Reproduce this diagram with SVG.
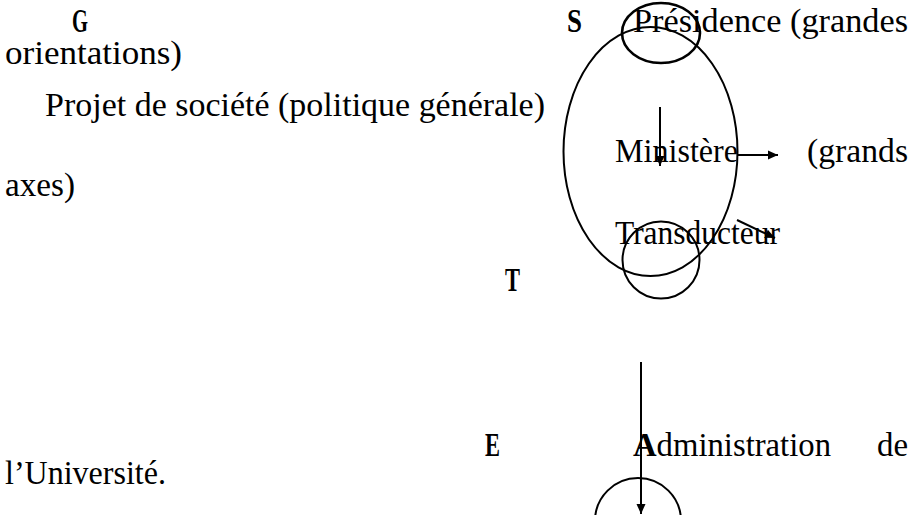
<svg xmlns="http://www.w3.org/2000/svg" width="916" height="515" viewBox="0 0 916 515">
<style>
text{font-family:"Liberation Serif","Times New Roman",serif;font-size:34px;fill:#000}
.b{font-weight:bold}
.sh{fill:none;stroke:#000;stroke-width:2}
.ar{fill:none;stroke:#000;stroke-width:2}
</style>
<defs>
<marker id="ah" markerWidth="12" markerHeight="10" refX="10" refY="5" orient="auto" markerUnits="userSpaceOnUse">
<path d="M0,0.5 L10,5 L0,9.5 Z" fill="#000"/>
</marker>
</defs>
<rect width="916" height="515" fill="#fff"/>
<g id="labels-left">
<text class="b" x="72" y="32" textLength="16" lengthAdjust="spacingAndGlyphs">G</text>
<text x="5" y="64" textLength="177" lengthAdjust="spacingAndGlyphs">orientations)</text>
<text x="45" y="116" textLength="500" lengthAdjust="spacingAndGlyphs">Projet de société (politique générale)</text>
<text x="5" y="196" textLength="70" lengthAdjust="spacingAndGlyphs">axes)</text>
<text x="5" y="484" textLength="161" lengthAdjust="spacingAndGlyphs">l’Université.</text>
</g>
<g id="node-system">
<ellipse class="sh" cx="650.5" cy="151.5" rx="87" ry="124.5"/>
<text class="b" x="567" y="32" textLength="15" lengthAdjust="spacingAndGlyphs">S</text>
</g>
<g id="node-presidence">
<ellipse class="sh" cx="661" cy="33" rx="39" ry="30" style="stroke-width:2.6"/>
<text x="633" y="32" textLength="275" lengthAdjust="spacingAndGlyphs">Présidence (grandes</text>
</g>
<g id="node-ministere">
<text x="615" y="162" textLength="123" lengthAdjust="spacingAndGlyphs">Ministère</text>
<text x="807" y="162" textLength="101" lengthAdjust="spacingAndGlyphs">(grands</text>
</g>
<g id="node-transducteur">
<circle class="sh" cx="661" cy="260" r="38.5"/>
<text x="615" y="244" textLength="165" lengthAdjust="spacingAndGlyphs">Transducteur</text>
<text class="b" x="505" y="291" textLength="15" lengthAdjust="spacingAndGlyphs">T</text>
</g>
<g id="node-administration">
<ellipse class="sh" cx="638" cy="521" rx="43" ry="43"/>
<text class="b" x="485" y="456" textLength="15" lengthAdjust="spacingAndGlyphs">E</text>
<text x="633" y="456" textLength="198" lengthAdjust="spacingAndGlyphs"><tspan class="b">A</tspan>dministration</text>
<text x="877" y="456" textLength="31" lengthAdjust="spacingAndGlyphs">de</text>
</g>
<g id="connectors">
<line class="ar" x1="660" y1="107" x2="660" y2="166" marker-end="url(#ah)"/>
<line class="ar" x1="738" y1="155" x2="778" y2="155" marker-end="url(#ah)"/>
<line class="ar" x1="737" y1="220" x2="775" y2="238" marker-end="url(#ah)"/>
<line class="ar" x1="641" y1="362" x2="641" y2="514" marker-end="url(#ah)"/>
</g>
</svg>
